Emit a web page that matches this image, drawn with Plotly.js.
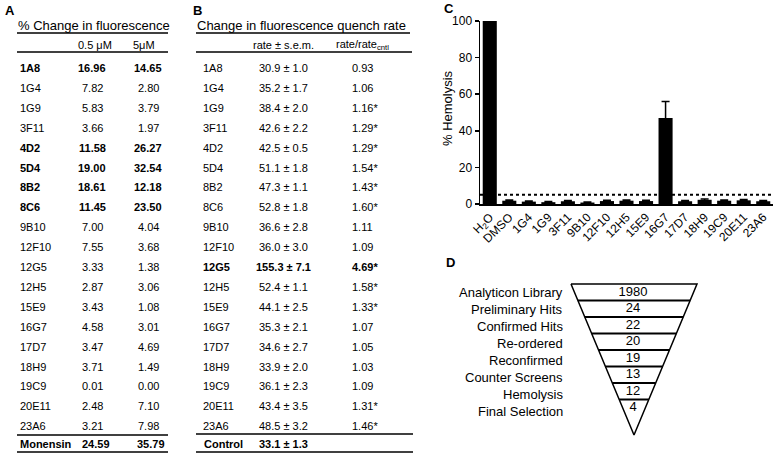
<!DOCTYPE html>
<html>
<head>
<meta charset="utf-8">
<script src="https://cdn.plot.ly/plotly-3.0.1.min.js"></script>
<style>html,body{margin:0;padding:0;background:#fff;}#chart{width:777px;height:456px;}</style>
</head>
<body>
<div id="chart"></div>
<script>
// ---------- DATA ----------
// Panel A / B compound list
const compounds = ['1A8','1G4','1G9','3F11','4D2','5D4','8B2','8C6','9B10','12F10','12G5','12H5','15E9','16G7','17D7','18H9','19C9','20E11','23A6'];
const pctChange05 = [16.96,7.82,5.83,3.66,11.58,19.00,18.61,11.45,7.00,7.55,3.33,2.87,3.43,4.58,3.47,3.71,0.01,2.48,3.21];
const pctChange5  = [14.65,2.80,3.79,1.97,26.27,32.54,12.18,23.50,4.04,3.68,1.38,3.06,1.08,3.01,4.69,1.49,0.00,7.10,7.98];
const boldA = ['1A8','4D2','5D4','8B2','8C6'];
const monensin = {name:'Monensin', v05:24.59, v5:35.79};

const quenchRate = [30.9,35.2,38.4,42.6,42.5,51.1,47.3,52.8,36.6,36.0,155.3,52.4,44.1,35.3,34.6,33.9,36.1,43.4,48.5];
const quenchSem  = [1.0,1.7,2.0,2.2,0.5,1.8,1.1,1.8,2.8,3.0,7.1,1.1,2.5,2.1,2.7,2.0,2.3,3.5,3.2];
const rateRatio  = [0.93,1.06,1.16,1.29,1.29,1.54,1.43,1.60,1.11,1.09,4.69,1.58,1.33,1.07,1.05,1.03,1.09,1.31,1.46];
const ratioSignificant = [false,false,true,true,true,true,true,true,false,false,true,true,true,false,false,false,false,true,true];
const boldB = ['12G5'];
const control = {name:'Control', rate:33.1, sem:1.3};

// Panel C
const hemoCategories = ['H<sub>2</sub>O','DMSO','1G4','1G9','3F11','9B10','12F10','12H5','15E9','16G7','17D7','18H9','19C9','20E11','23A6'];
const hemoValues = [100,1.8,1.3,1.0,1.5,0.8,1.6,1.8,1.6,47,1.5,2.3,1.8,2.0,1.5];
const hemoErrors = [0,0.4,0.3,0.3,0.4,0.3,0.4,0.4,0.4,9,0.4,0.5,0.4,0.4,0.4];
const hemoThreshold = 5;

// Panel D
const funnelStages = ['Analyticon Library','Preliminary Hits','Confirmed Hits','Re-ordered','Reconfirmed','Counter Screens','Hemolysis','Final Selection'];
const funnelCounts = [1980,24,22,20,19,13,12,4];

// ---------- LAYOUT HELPERS ----------
const FONT = 'Arial, "Liberation Sans", sans-serif';
const W = 777, H = 456;
const annotations = [];
const shapes = [];
function txt(x, y, text, opts) {
  opts = opts || {};
  annotations.push({
    xref:'x3', yref:'y3', x:x, y:y, text:text, showarrow:false,
    xanchor: opts.xanchor || 'left', yanchor:'middle', textangle: opts.angle || 0,
    font:{family:FONT, size: opts.size || 11, color:'#000'}
  });
}
function hline(x0, x1, y, w) {
  shapes.push({type:'line', xref:'x3', yref:'y3', x0:x0, x1:x1, y0:y, y1:y, line:{color:'#000', width:w||1.5}});
}
const b = s => '<b>' + s + '</b>';

// panel letters
txt(3, 10, b('A'), {size:13});
txt(191, 10, b('B'), {size:13});
txt(442, 8, b('C'), {size:13});
txt(444, 262, b('D'), {size:13});

// y-axis title of panel C
txt(447, 108, '% Hemolysis', {xanchor:'center', size:13, angle:-90});

// ---------- TABLE A ----------
const rowY0 = 68, rowDy = 19.9;
txt(16, 25, '% Change in fluorescence', {size:13});
hline(17, 168, 33, 1.5);
txt(95, 45, '0.5 \u03bcM', {xanchor:'center'});
txt(144, 45, '5\u03bcM', {xanchor:'center'});
hline(17, 168, 52, 1.5);
compounds.forEach((c, i) => {
  const y = rowY0 + i*rowDy;
  const bold = boldA.includes(c);
  const f = s => bold ? b(s) : s;
  txt(18, y, f(c));
  txt(92, y, f(pctChange05[i].toFixed(2)), {xanchor:'center'});
  txt(148, y, f(pctChange5[i].toFixed(2)), {xanchor:'center'});
});
hline(17, 168, 435, 1.5);
txt(18, 444, b(monensin.name));
txt(96, 444, b(monensin.v05.toFixed(2)), {xanchor:'center'});
txt(151, 444, b(monensin.v5.toFixed(2)), {xanchor:'center'});
hline(17, 168, 452, 1.5);

// ---------- TABLE B ----------
txt(195, 25, 'Change in fluorescence quench rate', {size:13});
hline(196, 410, 33, 1.5);
txt(283, 45, 'rate \u00b1 s.e.m.', {xanchor:'center'});
txt(362, 45, 'rate/rate<sub>cntl</sub>', {xanchor:'center'});
hline(196, 412, 52, 1.5);
compounds.forEach((c, i) => {
  const y = rowY0 + i*rowDy;
  const bold = boldB.includes(c);
  const f = s => bold ? b(s) : s;
  txt(201, y, f(c));
  txt(283, y, f(quenchRate[i].toFixed(1) + ' \u00b1 ' + quenchSem[i].toFixed(1)), {xanchor:'center'});
  txt(350, y, f(rateRatio[i].toFixed(2) + (ratioSignificant[i] ? '*' : '')), {xanchor:'left'});
});
hline(196, 413, 434, 1.5);
txt(202, 444, b(control.name));
txt(283, 444, b(control.rate.toFixed(1) + ' \u00b1 ' + control.sem.toFixed(1)), {xanchor:'center'});
hline(196, 413, 452, 1.5);

// ---------- PANEL D (funnel geometry) ----------
const fTop = 284, fApex = 435, fCx = 634, fHalf = 63, stageH = 16.5;
const hwAt = y => fHalf * (fApex - y) / (fApex - fTop);
const triX = [fCx - fHalf, fCx + fHalf, fCx, fCx - fHalf];
const triY = [fTop, fTop, fApex, fTop];
const sepX = [], sepY = [];
for (let k = 1; k < funnelStages.length; k++) {
  const y = fTop + k*stageH;
  sepX.push(fCx - hwAt(y), fCx + hwAt(y), null);
  sepY.push(y, y, null);
}
funnelStages.forEach((s, k) => {
  txt(565, 292 + k*17.1, s, {xanchor:'right', size:13});
});
const countY = funnelCounts.map((_, k) => fTop + (k + 0.5)*stageH);

// ---------- TRACES ----------
const traces = [
  {
    type:'bar', x:hemoCategories, y:hemoValues, xaxis:'x', yaxis:'y',
    marker:{color:'#000', line:{color:'#000', width:0}},
    error_y:{type:'data', array:hemoErrors, visible:true, color:'#000', thickness:1.5, width:4},
    hoverinfo:'skip', showlegend:false
  },
  {
    type:'scatter', mode:'lines', x:triX, y:triY, xaxis:'x3', yaxis:'y3',
    line:{color:'#000', width:1.5}, hoverinfo:'skip', showlegend:false
  },
  {
    type:'scatter', mode:'lines', x:sepX, y:sepY, xaxis:'x3', yaxis:'y3',
    line:{color:'#000', width:2}, hoverinfo:'skip', showlegend:false, connectgaps:false
  },
  {
    type:'scatter', mode:'text', x:funnelCounts.map(() => fCx - 1), y:countY,
    text:funnelCounts.map(String), textposition:'middle center',
    textfont:{family:FONT, size:13, color:'#000'}, xaxis:'x3', yaxis:'y3',
    hoverinfo:'skip', showlegend:false
  }
];

// threshold dotted line
shapes.push({type:'line', xref:'x domain', yref:'y', x0:0, x1:1, y0:hemoThreshold, y1:hemoThreshold,
  line:{color:'#000', width:2, dash:'dot'}, layer:'below'});

const layout = {
  width:W, height:H, margin:{l:0, r:0, t:0, b:0},
  paper_bgcolor:'#fff', plot_bgcolor:'rgba(0,0,0,0)',
  font:{family:FONT, color:'#000'},
  showlegend:false, bargap:0.28,
  xaxis:{
    domain:[480/W, 773/W], type:'category', range:[-0.5, hemoCategories.length - 0.5],
    showline:true, linecolor:'#000', linewidth:1.5, ticks:'', tickangle:-45,
    tickfont:{family:FONT, size:12, color:'#000'}, showgrid:false, zeroline:false, fixedrange:true
  },
  yaxis:{
    domain:[1 - 204/H, 1 - 21/H], range:[0, 100], tickvals:[0,20,40,60,80,100],
    showline:true, linecolor:'#000', linewidth:1.5, ticks:'outside', ticklen:4, tickwidth:1.5, tickcolor:'#000',
    tickfont:{family:FONT, size:12, color:'#000'}, showgrid:false, zeroline:false, fixedrange:true
  },
  xaxis3:{domain:[0,1], range:[0, W], visible:false, fixedrange:true, anchor:'y3'},
  yaxis3:{domain:[0,1], range:[H, 0], visible:false, fixedrange:true, anchor:'x3'},
  annotations:annotations,
  shapes:shapes
};

Plotly.newPlot('chart', traces, layout, {displayModeBar:false, staticPlot:true});
</script>
</body>
</html>
